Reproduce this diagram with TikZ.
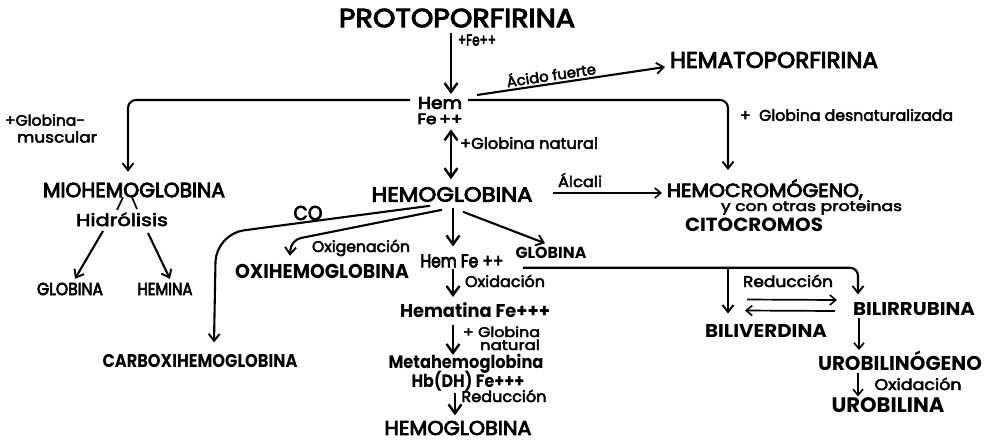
\documentclass[tikz,border=0pt]{standalone}
\usepackage{fontspec}
\setmainfont{Poppins}
\newfontfamily\lblfont{Poppins}[FakeBold=3]
\newfontfamily\medfont{Poppins}[FakeBold=4]
\usetikzlibrary{arrows.meta}
\newcommand{\fitto}[2]{\resizebox{#1pt}{\height}{#2}}
\newcommand{\fsz}[1]{\fontsize{#1}{#1}\selectfont}
\tikzset{
  tx/.style={font=\lblfont\fsz{#1}},
  tm/.style={font=\medfont\fsz{#1}},
  tb/.style={font=\fsz{#1}\bfseries},
  thickarr/.style={line width=2.8pt,-{Straight Barb[length=9pt,width=13pt,line width=2.4pt]}},
  dblarr/.style={line width=2.8pt,{Straight Barb[length=9pt,width=13pt,line width=2.4pt]}-{Straight Barb[length=9pt,width=13pt,line width=2.4pt]}},
  thinarr/.style={line width=2.1pt,-{Straight Barb[length=7pt,width=11pt,line width=1.9pt]}},
  fineline/.style={line width=1.7pt,-{Straight Barb[length=6pt,width=10pt,line width=1.6pt]}},
  plainline/.style={line width=1.7pt},
}
\begin{document}
\begin{tikzpicture}[x=1pt,y=-1pt,every node/.style={inner sep=0pt,outer sep=0pt}]
\useasboundingbox[fill=white] (0,0) rectangle (993,440);

% ---------- text nodes ----------
\node[tm=26] (proto) at (457,18) {\fitto{236}{PROTOPORFIRINA}};
\node[tm=16,anchor=west] (plusfe) at (458,40) {\fitto{38}{+Fe++}};
\node[tm=17] (hem) at (440,103) {\fitto{44}{Hem}};
\node[tm=15] (fe) at (440,119) {\fitto{45}{Fe\,++}};
\node[tx=15,anchor=west] (gm1) at (5,120) {\fitto{80}{+Globina-}};
\node[tx=15,anchor=west] (gm2) at (17,137) {\fitto{80}{muscular}};
\node[tx=14.5,rotate=8.5] (acido) at (551,74) {\fitto{90}{Ácido fuerte}};
\node[tm=22.5] (hpf) at (774,60) {\fitto{208}{HEMATOPORFIRINA}};
\node[tx=15.5,anchor=west] (gdes) at (740,115) {\fitto{213}{+\ \ Globina desnaturalizada}};
\node[tx=15.5,anchor=west] (gnat) at (460,143) {\fitto{138}{+Globina natural}};
\node[tm=20.5] (mio) at (134,190) {\fitto{182}{MIOHEMOGLOBINA}};
\node[tx=17,anchor=base] (hidro) at (122,226) {\fitto{92}{Hidrólisis}};
\node[tm=17.5] (globL) at (70,289) {\fitto{66}{GLOBINA}};
\node[tm=17.5] (hemina) at (165,289) {\fitto{55}{HEMINA}};
\node[tm=20.5] (hgb) at (452,194.5) {\fitto{161}{HEMOGLOBINA}};
\node[tx=15,anchor=base] (alcali) at (580,187) {\fitto{44}{Álcali}};
\node[tm=19,anchor=base west] (hcg) at (667,197) {\fitto{192}{HEMOCROMÓGENO}};
\node[tm=19,anchor=base west] (hcgc) at (hcg.base east) {,};
\node[tx=14,anchor=base west] (otras) at (721,211) {\fitto{181}{y con otras proteinas}};
\node[tb=19] (cito) at (754,225) {\fitto{138}{CITOCROMOS}};
\node[tm=20] (co) at (308,213) {\fitto{29}{CO}};
\node[tx=15.5,anchor=base] (oxig) at (361,252) {\fitto{98}{Oxigenación}};
\node[tb=20] (oxi) at (322,271) {\fitto{174}{OXIHEMOGLOBINA}};
\node[tm=18.5] (hemfe) at (462,261) {\fitto{83}{Hem Fe ++}};
\node[tb=16] (globR) at (551,253) {\fitto{71}{GLOBINA}};
\node[tx=15.5,anchor=base] (oxid) at (505,287) {\fitto{80}{Oxidación}};
\node[tb=18.5,anchor=base] (hematina) at (475,317) {\fitto{150}{Hematina Fe+++}};
\node[tx=14,anchor=base west] (gn1) at (463,337) {\fitto{77}{+ Globina}};
\node[tx=14,anchor=base west] (gn2) at (480,350) {\fitto{60}{natural}};
\node[tb=18,anchor=base] (meta) at (466,368) {\fitto{155}{Metahemoglobina}};
\node[tb=18,anchor=base] (hb) at (468,387) {\fitto{113}{Hb(DH) Fe+++}};
\node[tx=15.5,anchor=base] (red) at (504,402) {\fitto{85}{Reducción}};
\node[tm=20] (hgb2) at (458,428) {\fitto{147}{HEMOGLOBINA}};
\node[tb=18.5] (carb) at (200,361) {\fitto{195}{CARBOXIHEMOGLOBINA}};
\node[tx=15.5,anchor=base] (redR) at (788,287) {\fitto{90}{Reducción}};
\node[tb=18.5] (biliR) at (914,309) {\fitto{122}{BILIRRUBINA}};
\node[tb=18.5] (biliV) at (766,331) {\fitto{122}{BILIVERDINA}};
\node[tb=20,anchor=base] (urobn) at (900,370) {\fitto{164}{UROBILINÓGENO}};
\node[tx=15.5,anchor=base] (oxR) at (918,390) {\fitto{87}{Oxidación}};
\node[tb=21] (urobilina) at (888,405) {\fitto{113}{UROBILINA}};

% ---------- bend points ----------
\coordinate (cocorner) at (216,234);
\coordinate (oxcorner) at (291,240);
\coordinate (brpt) at (728,267);

% ---------- connectors ----------
\draw[thickarr] ([xshift=-6pt,yshift=-6pt]proto.south) -- ([xshift=11pt,yshift=3pt]hem.north);
\draw[thinarr,rounded corners=8pt] ([xshift=-8pt,yshift=3pt]hem.west) -| ([xshift=-6pt,yshift=11pt]mio.north);
\draw[thinarr] ([xshift=15pt,yshift=8pt]hem.east) -- ([xshift=-5pt,yshift=-7pt]hpf.west);
\draw[thinarr,rounded corners=8pt] ([xshift=6pt,yshift=3pt]hem.east) -| ([xshift=61pt,yshift=27pt]hcg.base west);
\draw[dblarr] ([xshift=11pt,yshift=-5pt]fe.south) -- ([xshift=-1pt,yshift=8pt]hgb.north);
\draw[fineline] ([xshift=20pt,yshift=1.5pt]hgb.east) -- ([xshift=-5pt,yshift=4pt]hcg.base west);

\draw[plainline] ([xshift=-11pt]mio.south) -- ([xshift=-5pt,yshift=16pt]hidro.base);
\draw[plainline] ([xshift=-2pt]mio.south) -- ([xshift=15pt,yshift=17pt]hidro.base);
\draw[thinarr] ([xshift=-19pt,yshift=-5pt]hidro.base) -- ([xshift=5pt,yshift=4pt]globL.north);
\draw[thinarr] ([xshift=26pt,yshift=-7pt]hidro.base) -- ([xshift=5pt,yshift=4pt]hemina.north);

\draw[thinarr,rounded corners=28pt] ([xshift=-22pt,yshift=-4pt]hgb.south) -- (cocorner) -- ([xshift=14pt,yshift=12pt]carb.north);
\draw[thinarr,rounded corners=10pt] ([xshift=-10pt,yshift=-8pt]hgb.south) -- (oxcorner) -- ([xshift=-32pt,yshift=8pt]oxi.north);
\draw[thickarr] ([xshift=1pt,yshift=-6pt]hgb.south) -- ([xshift=-9pt,yshift=8pt]hemfe.north);
\draw[thinarr] ([xshift=11pt,yshift=-10pt]hgb.south) -- ([xshift=-6pt,yshift=4pt]globR.north);

\draw[thinarr,rounded corners=8pt] ([xshift=-28pt,yshift=-9pt]globR.south) -| ([xshift=-56pt,yshift=8pt]biliR.north);
\draw[thinarr] (brpt) -- ([xshift=-38pt,yshift=11pt]biliV.north);
\draw[fineline] ([xshift=-19pt,yshift=25pt]biliV.north) -- ([xshift=-16pt,yshift=9pt]biliR.west);
\draw[fineline] ([xshift=-18pt,yshift=-2pt]biliR.west) -- ([xshift=-21pt,yshift=14pt]biliV.north);
\draw[fineline] ([xshift=-55pt,yshift=-2pt]biliR.south) -- ([xshift=-41pt,yshift=20pt]urobn.base);
\draw[fineline] ([xshift=-42pt,yshift=-3pt]urobn.base) -- ([xshift=-30pt,yshift=1pt]urobilina.north);

\draw[thickarr] ([xshift=-9pt,yshift=-1pt]hemfe.south) -- ([xshift=-22pt,yshift=20pt]hematina.base);
\draw[thickarr] ([xshift=-22pt,yshift=-8pt]hematina.base) -- ([xshift=-13pt,yshift=13pt]meta.base);
\draw[thickarr] ([xshift=-13pt,yshift=-6pt]hb.base) -- ([xshift=-3pt,yshift=5.5pt]hgb2.north);
\end{tikzpicture}
\end{document}
